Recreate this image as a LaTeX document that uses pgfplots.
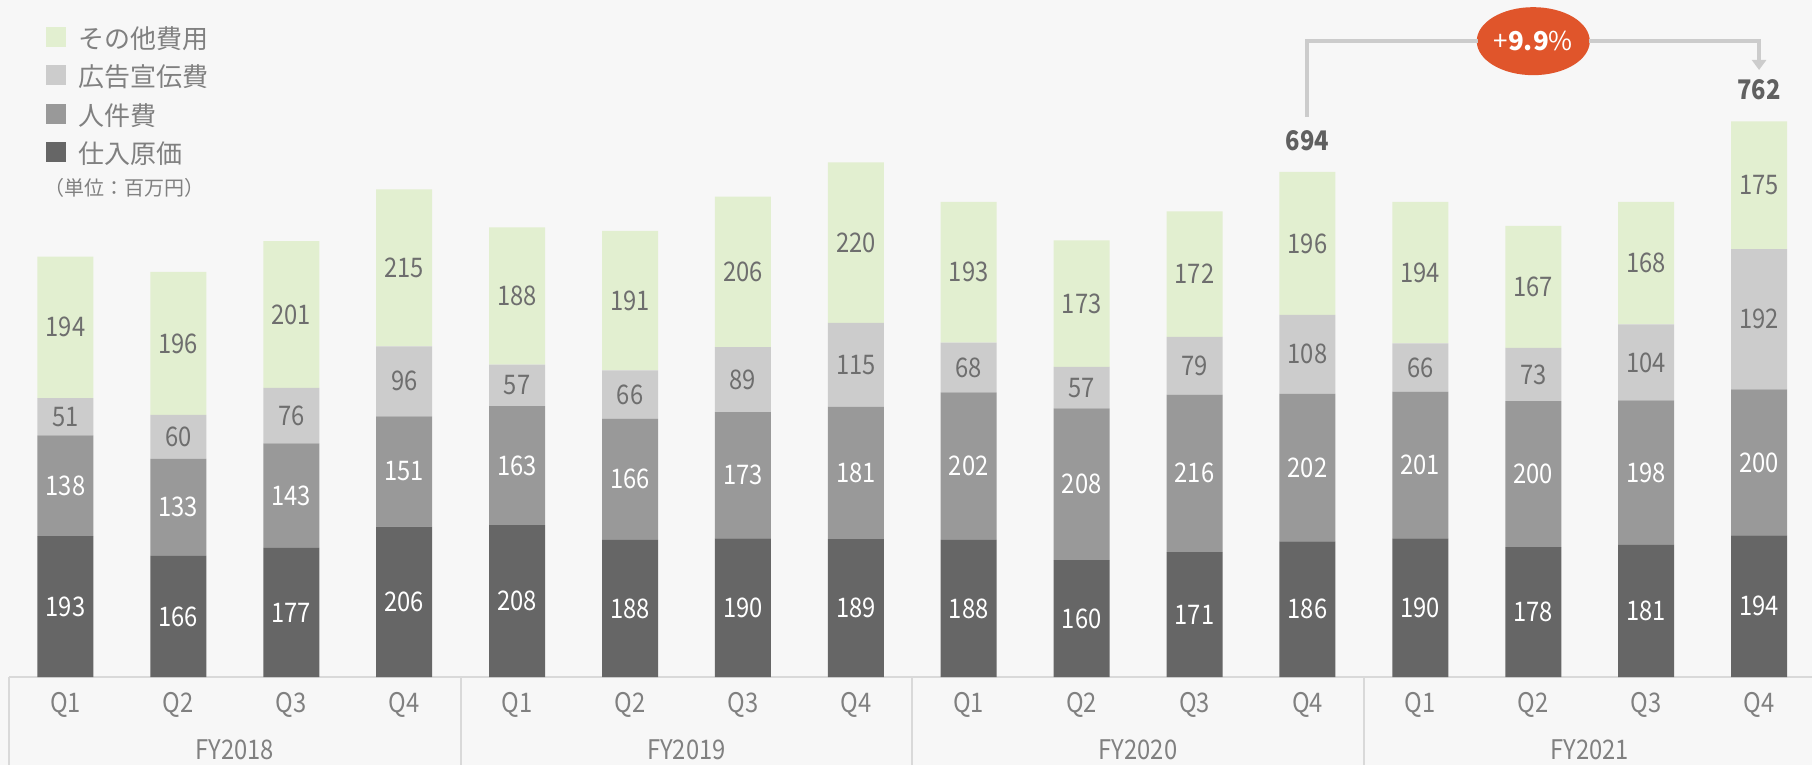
\documentclass[border=0pt]{standalone}
\usepackage{fontspec}
\setmainfont{Noto Sans CJK JP}
\newfontfamily\numfont[FakeStretch=0.88]{Noto Sans CJK JP}
\usepackage{pgfplots}
\pgfplotsset{compat=1.18}
\usepackage{pgfplotstable}
\usetikzlibrary{arrows.meta,shapes.geometric}
\definecolor{bg}{HTML}{F7F7F7}
\definecolor{cA}{HTML}{666666}
\definecolor{cB}{HTML}{999999}
\definecolor{cC}{HTML}{CCCCCC}
\definecolor{cD}{HTML}{E2EFD0}
\definecolor{txt}{HTML}{808080}
\definecolor{lab}{HTML}{6E6E6E}
\definecolor{gridc}{HTML}{D9D9D9}
\definecolor{accent}{HTML}{E0552B}
\definecolor{tot}{HTML}{606060}

\pgfplotstableread{
x cogs labor adv other
0 193 138 51 194
1 166 133 60 196
2 177 143 76 201
3 206 151 96 215
4 208 163 57 188
5 188 166 66 191
6 190 173 89 206
7 189 181 115 220
8 188 202 68 193
9 160 208 57 173
10 171 216 79 172
11 186 202 108 196
12 190 201 66 194
13 178 200 73 167
14 181 198 104 168
15 194 200 192 175
}\data

\newcommand{\lab}{\numfont\fontsize{13.5}{15}\selectfont}

\pgfplotsset{
  seg/.style n args={3}{
    fill=#1, draw=none,
    nodes near coords,
    point meta=\thisrow{#2},
    every node near coord/.append style={text=#3, anchor=center, font=\lab, inner sep=0pt},
  },
}

\begin{document}
\begin{tikzpicture}
\begin{axis}[
  scale only axis, width=906pt, height=382.5pt,
  xmin=-0.580, xmax=15.469, ymin=-120.5, ymax=927.4,
  /pgf/number format/assume math mode=true,
  axis background/.style={fill=bg},
  axis line style={draw=none},
  ybar stacked, bar width=28pt,
  xtick={0,...,15},
  xticklabels={Q1,Q2,Q3,Q4,Q1,Q2,Q3,Q4,Q1,Q2,Q3,Q4,Q1,Q2,Q3,Q4},
  xtick style={draw=none}, ytick=\empty,
  x tick label style={anchor=center, yshift=30pt, font=\lab, text=txt},
  extra x ticks={1.5,5.5,9.5,13.5},
  extra x tick labels={FY2018,FY2019,FY2020,FY2021},
  extra x tick style={x tick label style={yshift=-22.5pt}},
  reverse legend,
  legend cell align=left,
  legend image code/.code={\fill[#1] (0pt,-0.5pt) rectangle (10pt,9.5pt);},
  legend style={at={(0.0254,0.966)}, anchor=north west, draw=none, fill=none,
    inner sep=0pt, column sep=6pt, row sep=0pt,
    font=\fontsize{13}{13}\selectfont, text=txt,
    nodes={inner sep=0pt, text height=11pt, text depth=8.25pt}},
]
\addplot[seg={cA}{cogs}{white}] table[x=x,y=cogs]{\data};
\addplot[seg={cB}{labor}{white}] table[x=x,y=labor]{\data};
\addplot[seg={cC}{adv}{lab}] table[x=x,y=adv]{\data};
\addplot[seg={cD}{other}{lab}] table[x=x,y=other]{\data};
\legend{仕入原価,人件費,広告宣伝費,その他費用}

% category frame
\draw[gridc, line width=1pt] (axis cs:-0.5,0) -- (axis cs:15.469,0);
\draw[gridc, line width=0.9pt] (axis cs:-0.5,0) -- (axis cs:-0.5,-120.5);
\draw[gridc, line width=0.9pt] (axis cs:3.5,0) -- (axis cs:3.5,-120.5);
\draw[gridc, line width=0.9pt] (axis cs:7.5,0) -- (axis cs:7.5,-120.5);
\draw[gridc, line width=0.9pt] (axis cs:11.5,0) -- (axis cs:11.5,-120.5);

% unit note
\node[anchor=west, text=txt, font=\fontsize{10}{12}\selectfont, inner sep=0pt] at (rel axis cs:0.0243,0.754) {（単位：百万円）};

% totals
\node[text=tot, font=\numfont\bfseries\fontsize{13.5}{15}\selectfont] at (axis cs:11,734) {694};
\node[text=tot, font=\numfont\bfseries\fontsize{13.5}{15}\selectfont] at (axis cs:15,804) {762};

% bracket
\draw[cC, line width=2pt] (axis cs:11,767) |- (axis cs:12.51,871);
\draw[cC, line width=2pt, -{Triangle[width=7pt,length=5pt]}] (axis cs:13.49,871) -| (axis cs:15,831.5);
\node[ellipse, fill=accent, minimum width=56.5pt, minimum height=34pt, inner sep=0pt, text=white, font=\fontsize{13}{15}\selectfont] at (axis cs:13.0,871) {+\textbf{9.9}\%};
\end{axis}
\end{tikzpicture}
\end{document}
